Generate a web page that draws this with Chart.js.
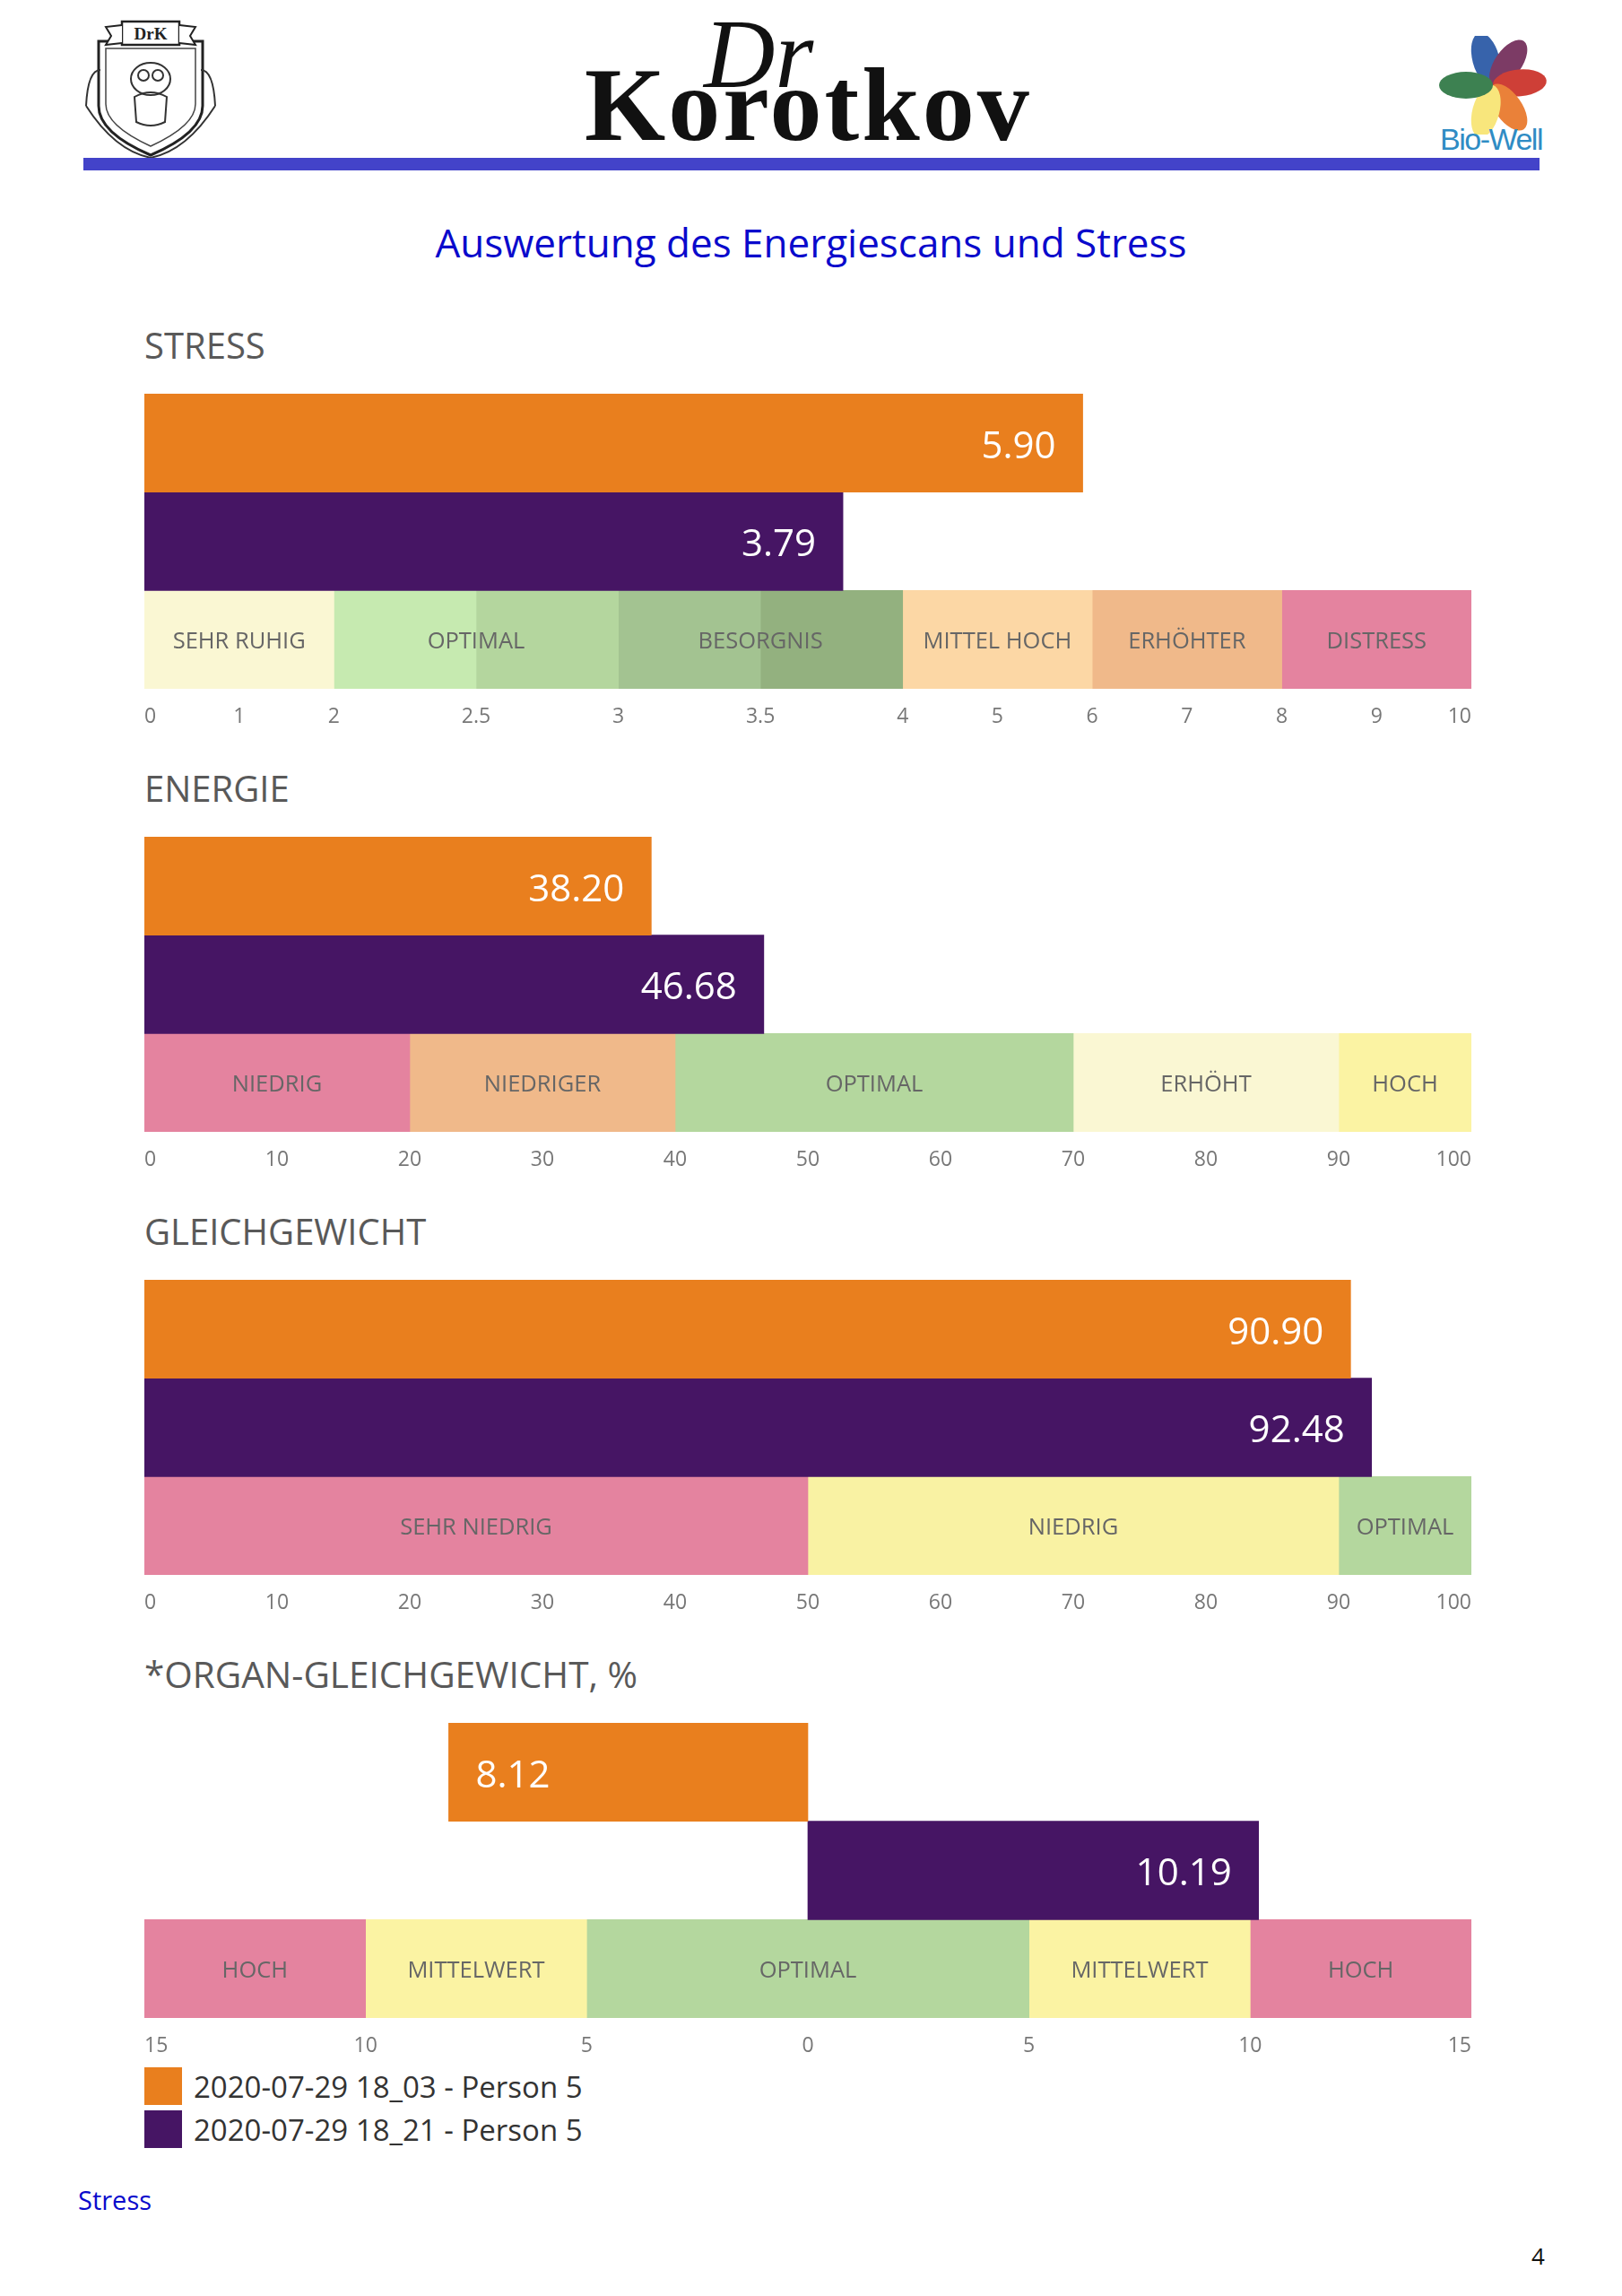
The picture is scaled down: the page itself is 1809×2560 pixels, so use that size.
<!DOCTYPE html>
<html>
<head>
<meta charset="utf-8">
<script src="https://cdn.jsdelivr.net/npm/chart.js@4.4.1/dist/chart.umd.min.js"></script>
<style>
  body { margin: 0; width: 1809px; height: 2560px; background: #fff; position: relative; overflow: hidden; font-family: 'Open Sans', sans-serif; }
  .abs { position: absolute; }
  .sec { position: absolute; left: 161px; font-size: 40px; line-height: 40px; color: #595959; white-space: nowrap; }
  .box { position: absolute; left: 161px; width: 1480px; height: 379px; }
  .leg { position: absolute; left: 161px; top: 2305px; }
  .leg div { display: flex; align-items: center; height: 42px; margin-bottom: 6px; font-size: 33px; color: #333; white-space: nowrap; }
  .leg span { display: inline-block; width: 42px; height: 42px; margin-right: 13px; }
</style>
</head>
<body>

<!-- Kopfzeile -->
<svg class="abs" style="left:88px;top:18px" width="160" height="160" viewBox="0 0 160 160">
  <path d="M22 28 L138 28 L138 100 Q138 130 80 155 Q22 130 22 100 Z" fill="#fff" stroke="#222" stroke-width="3"/>
  <path d="M30 36 L130 36 L130 98 Q130 122 80 145 Q30 122 30 98 Z" fill="none" stroke="#444" stroke-width="1.5"/>
  <rect x="48" y="6" width="64" height="26" fill="#fff" stroke="#222" stroke-width="2.5"/>
  <path d="M48 10 L30 12 L36 22 L30 32 L48 30 M112 10 L130 12 L124 22 L130 32 L112 30" fill="#fff" stroke="#222" stroke-width="2"/>
  <text x="80" y="26" text-anchor="middle" font-family="Liberation Serif" font-size="19" font-weight="bold" fill="#222">DrK</text>
  <ellipse cx="80" cy="70" rx="22" ry="18" fill="none" stroke="#333" stroke-width="2"/>
  <circle cx="72" cy="66" r="6" fill="none" stroke="#333" stroke-width="2"/>
  <circle cx="88" cy="66" r="6" fill="none" stroke="#333" stroke-width="2"/>
  <path d="M62 90 Q80 80 98 90 L96 118 Q80 126 64 118 Z" fill="none" stroke="#333" stroke-width="2"/>
  <path d="M8 100 Q10 60 24 60 M152 100 Q150 60 136 60" fill="none" stroke="#333" stroke-width="2"/>
  <path d="M8 100 Q40 150 80 158 Q120 150 152 100" fill="none" stroke="#333" stroke-width="2"/>
</svg>

<div class="abs" style="left:785px;top:0px;font-family:'Liberation Serif';font-style:italic;font-size:110px;line-height:120px;color:#111">Dr</div>
<div class="abs" style="left:652px;top:52px;font-family:'Liberation Serif';font-weight:bold;font-size:116px;line-height:130px;letter-spacing:3px;color:#111">Korotkov</div>

<svg class="abs" style="left:1600px;top:40px" width="130" height="110" viewBox="-65 -55 130 110">
  <g opacity="0.88">
    <ellipse cx="0" cy="-30" rx="15" ry="30" fill="#1c4ea0" transform="rotate(-15)"/>
    <ellipse cx="0" cy="-30" rx="15" ry="30" fill="#6b2050" transform="rotate(35)"/>
    <ellipse cx="0" cy="-30" rx="15" ry="30" fill="#c8251c" transform="rotate(85)"/>
    <ellipse cx="0" cy="-30" rx="15" ry="30" fill="#e8701e" transform="rotate(145)"/>
    <ellipse cx="0" cy="-30" rx="15" ry="30" fill="#f8e36a" transform="rotate(195)"/>
    <ellipse cx="0" cy="-30" rx="15" ry="30" fill="#23703a" transform="rotate(270)"/>
  </g>
</svg>
<div class="abs" style="left:1606px;top:136px;font-family:'Liberation Sans';font-size:34px;line-height:38px;letter-spacing:-1.5px;color:#2f8cc4">Bio-Well</div>

<div class="abs" style="left:93px;top:176px;width:1624px;height:14px;background:#4343c9"></div>

<div class="abs" style="left:0;top:248px;width:1809px;text-align:center;font-size:44px;line-height:44px;color:#0a0acc">Auswertung des Energiescans und Stress</div>

<div class="sec" style="top:365px">STRESS</div>
<div class="box" style="top:439px"><canvas id="stressChart"></canvas></div>

<div class="sec" style="top:859px">ENERGIE</div>
<div class="box" style="top:933px"><canvas id="energieChart"></canvas></div>

<div class="sec" style="top:1353px">GLEICHGEWICHT</div>
<div class="box" style="top:1427px"><canvas id="gleichChart"></canvas></div>

<div class="sec" style="top:1847px;font-size:40.5px">*ORGAN-GLEICHGEWICHT, %</div>
<div class="box" style="top:1921px"><canvas id="organChart"></canvas></div>

<div class="leg" id="legend"></div>

<div class="abs" style="left:87px;top:2438px;font-size:29px;line-height:29px;color:#0a0acc">Stress</div>
<div class="abs" style="left:1708px;top:2500px;font-size:26px;line-height:30px;color:#111">4</div>

<script>
// Messungen (zwei Scans)
const seriesNames = ['2020-07-29 18_03 - Person 5', '2020-07-29 18_21 - Person 5'];
const seriesColors = ['#e97f1e', '#461564'];

// STRESS
const stressValues = [5.90, 3.79];
const stressTicks = [0, 1, 2, 2.5, 3, 3.5, 4, 5, 6, 7, 8, 9, 10];
const stressTickLabels = ['0', '1', '2', '2.5', '3', '3.5', '4', '5', '6', '7', '8', '9', '10'];
const stressZoneNames = ['SEHR RUHIG', 'OPTIMAL', 'BESORGNIS', 'MITTEL HOCH', 'ERHÖHTER', 'DISTRESS'];
const stressZoneEdges = [0, 2, 3, 4, 6, 8, 10];
const stressBandEdges = [0, 2, 2.5, 3, 3.5, 4, 6, 8, 10];
const stressBandColors = ['#faf7d3', '#c6eab0', '#b4d69e', '#a3c391', '#93b17f', '#fcd7a5', '#f0b98a', '#e4839f'];

// ENERGIE
const energieValues = [38.20, 46.68];
const energieZoneNames = ['NIEDRIG', 'NIEDRIGER', 'OPTIMAL', 'ERHÖHT', 'HOCH'];
const energieZoneEdges = [0, 20, 40, 70, 90, 100];
const energieBandColors = ['#e4839f', '#f0b98a', '#b4d79e', '#faf7d3', '#fbf3a3'];

// GLEICHGEWICHT
const gleichValues = [90.90, 92.48];
const gleichZoneNames = ['SEHR NIEDRIG', 'NIEDRIG', 'OPTIMAL'];
const gleichZoneEdges = [0, 50, 90, 100];
const gleichBandColors = ['#e4839f', '#f9f2a3', '#b4d79e'];

// ORGAN-GLEICHGEWICHT (negativ = links)
const organValues = [-8.12, 10.19];
const organZoneNames = ['HOCH', 'MITTELWERT', 'OPTIMAL', 'MITTELWERT', 'HOCH'];
const organZoneEdges = [-15, -10, -5, 5, 10, 15];
const organBandColors = ['#e4839f', '#fbf3a3', '#b4d79e', '#fbf3a3', '#e4839f'];

// Stress-Achse ist abschnittsweise: 2..4 ist dreimal so breit gezeichnet
const stressBreaks = [0, 2, 4, 10];
const stressUnits = [0, 2, 8, 14];
function stressPos(v) {
    for (let i = 1; i < stressBreaks.length; i++) {
        if (v <= stressBreaks[i]) {
            const a = stressBreaks[i - 1], b = stressBreaks[i];
            return stressUnits[i - 1] + (v - a) / (b - a) * (stressUnits[i] - stressUnits[i - 1]);
        }
    }
    return stressUnits[stressUnits.length - 1];
}
const ident = v => v;

// Legende
document.getElementById('legend').innerHTML = seriesNames.map((n, i) =>
    '<div><span style="background:' + seriesColors[i] + '"></span>' + n + '</div>').join('');

// Texte in den Balken
const barText = {
    id: 'barText',
    afterDatasetsDraw(chart, args, opts) {
        const ctx = chart.ctx;
        const xs = chart.scales.x, ys = chart.scales.y;
        const map = opts.map;
        ctx.save();
        ctx.textBaseline = 'middle';
        ctx.textAlign = 'center';
        ctx.fillStyle = '#666';
        ctx.font = '25.5px "Open Sans"';
        const yb = ys.getPixelForValue(2);
        opts.names.forEach((n, i) => {
            const x1 = xs.getPixelForValue(map(opts.edges[i]));
            const x2 = xs.getPixelForValue(map(opts.edges[i + 1]));
            ctx.fillText(n, (x1 + x2) / 2, yb + 3);
        });
        ctx.fillStyle = '#fff';
        ctx.font = '42px "Open Sans"';
        opts.values.forEach((v, i) => {
            const bar = chart.getDatasetMeta(i).data[i];
            const txt = Math.abs(v).toFixed(2);
            if (bar.x >= bar.base) {
                ctx.textAlign = 'right';
                ctx.fillText(txt, bar.x - 30, bar.y + 5);
            } else {
                ctx.textAlign = 'left';
                ctx.fillText(txt, bar.x + 30, bar.y + 5);
            }
        });
        ctx.restore();
    }
};

function makeChart(id, values, bandEdges, bandColors, zoneNames, zoneEdges, map, xOpts) {
    const datasets = values.map((v, i) => ({
        label: seriesNames[i],
        data: [0, 1, 2].map(r => r === i ? [map(0), map(v)] : null),
        backgroundColor: seriesColors[i]
    }));
    for (let i = 0; i < bandColors.length; i++) {
        datasets.push({
            label: 'band' + i,
            data: [null, null, [map(bandEdges[i]), map(bandEdges[i + 1])]],
            backgroundColor: bandColors[i]
        });
    }
    datasets.forEach(d => Object.assign(d, {
        grouped: false, categoryPercentage: 1, barPercentage: 1, borderWidth: 0, borderSkipped: false
    }));

    return new Chart(document.getElementById(id), {
        type: 'bar',
        data: { labels: ['a', 'b', 'c'], datasets: datasets },
        options: {
            indexAxis: 'y',
            responsive: true,
            maintainAspectRatio: false,
            animation: false,
            layout: { padding: 0 },
            plugins: {
                legend: { display: false },
                tooltip: { enabled: false },
                barText: { values: values, names: zoneNames, edges: zoneEdges, map: map }
            },
            scales: {
                y: { display: false },
                x: Object.assign({
                    type: 'linear',
                    border: { display: false },
                    grid: { display: false, drawTicks: true, tickLength: 18 },
                    afterFit: axis => { axis.height = 50; }
                }, xOpts)
            }
        },
        plugins: [barText]
    });
}

const tickFont = { family: 'Open Sans', size: 23 };

makeChart('stressChart', stressValues, stressBandEdges, stressBandColors, stressZoneNames, stressZoneEdges, stressPos, {
    min: 0, max: stressPos(10),
    afterBuildTicks: axis => { axis.ticks = stressTicks.map(v => ({ value: stressPos(v) })); },
    ticks: { padding: 0, align: 'inner', color: '#777', font: tickFont, autoSkip: false, maxRotation: 0,
             callback: (val, i) => stressTickLabels[i] }
});

makeChart('energieChart', energieValues, energieZoneEdges, energieBandColors, energieZoneNames, energieZoneEdges, ident, {
    min: 0, max: 100,
    ticks: { stepSize: 10, padding: 0, align: 'inner', color: '#777', font: tickFont, autoSkip: false, maxRotation: 0 }
});

makeChart('gleichChart', gleichValues, gleichZoneEdges, gleichBandColors, gleichZoneNames, gleichZoneEdges, ident, {
    min: 0, max: 100,
    ticks: { stepSize: 10, padding: 0, align: 'inner', color: '#777', font: tickFont, autoSkip: false, maxRotation: 0 }
});

makeChart('organChart', organValues, organZoneEdges, organBandColors, organZoneNames, organZoneEdges, ident, {
    min: -15, max: 15,
    ticks: { stepSize: 5, padding: 0, align: 'inner', color: '#777', font: tickFont, autoSkip: false, maxRotation: 0,
             callback: v => Math.abs(v) }
});
</script>
</body>
</html>
